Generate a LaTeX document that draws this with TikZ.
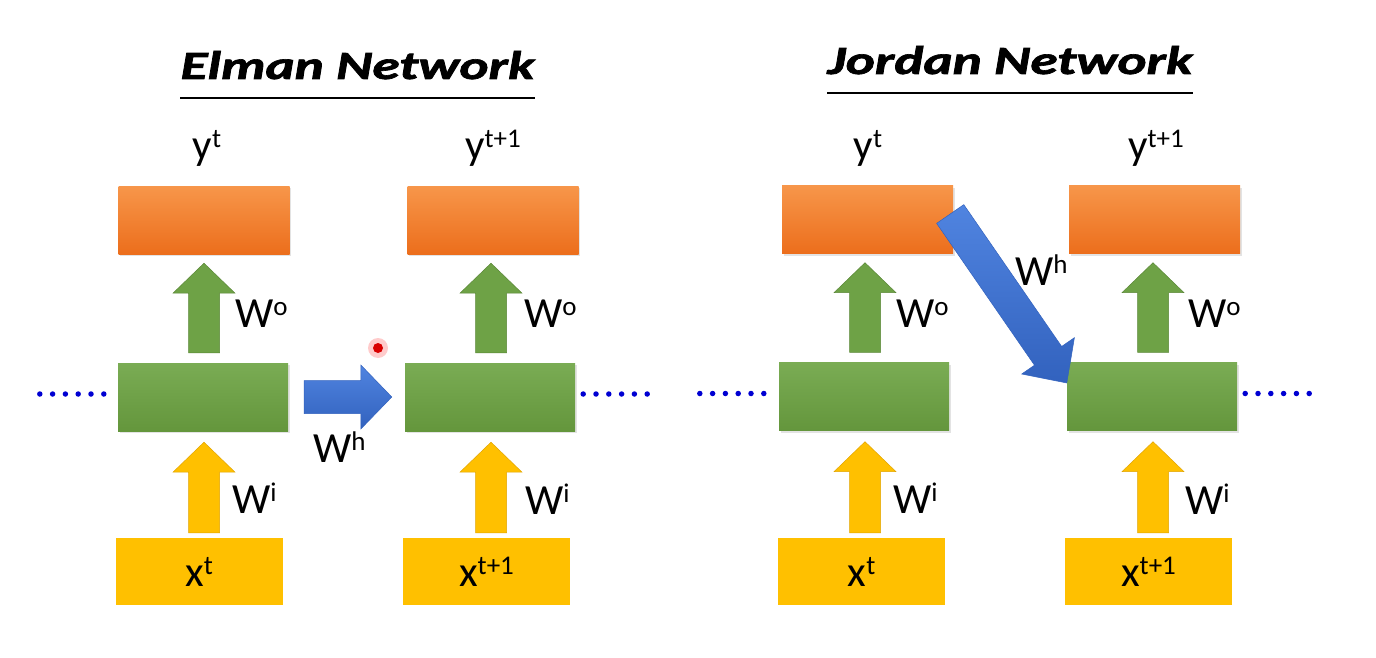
\documentclass[tikz,border=0pt]{standalone}
\usepackage{fontspec}
\setmainfont{Carlito}
\newfontfamily\ttlfamily{Carlito}[BoldItalicFeatures={FakeBold=1.6}]
\usetikzlibrary{calc,shadows}
\definecolor{orT}{RGB}{247,150,74}
\definecolor{orB}{RGB}{236,110,28}
\definecolor{grT}{RGB}{122,172,84}
\definecolor{grB}{RGB}{100,150,60}
\definecolor{grA}{RGB}{110,162,70}
\definecolor{grE}{RGB}{90,135,55}
\definecolor{yel}{RGB}{255,192,0}
\definecolor{yelE}{RGB}{225,165,0}
\definecolor{bluT}{RGB}{80,132,224}
\definecolor{bluB}{RGB}{50,98,190}
\definecolor{dotb}{RGB}{0,0,210}
\newcommand\bigf{\fontsize{43}{50}\selectfont}
\newcommand\sps[1]{\raisebox{12pt}{\fontsize{27}{30}\selectfont #1}}
% #1 style, #2 tail, #3 tip, #4 half shaft, #5 half head, #6 head length
\newcommand\blockarrow[6]{%
  \coordinate (bahb) at ($(#3)!#6!(#2)$);
  \path[#1] ($(#2)!#4!90:(#3)$) -- ($(bahb)!#4!-90:(#2)$) -- ($(bahb)!#5!-90:(#2)$)
    -- (#3) -- ($(bahb)!#5!90:(#2)$) -- ($(bahb)!#4!90:(#2)$) -- ($(#2)!#4!-90:(#3)$) -- cycle;}
\tikzset{
  boxshadow/.style={drop shadow={opacity=0.22,shadow xshift=1.5pt,shadow yshift=-2pt}},
  obox/.style={rectangle, minimum width=171pt, minimum height=68pt, inner sep=0pt, top color=orT, bottom color=orB, boxshadow},
  gbox/.style={rectangle, minimum width=170pt, minimum height=68pt, inner sep=0pt, top color=grT, bottom color=grB, boxshadow},
  xbox/.style={rectangle, minimum width=167pt, minimum height=67pt, inner sep=0pt, fill=yel, font=\bigf},
  lbl/.style={inner sep=0pt, font=\bigf},
  titletext/.style={inner sep=0pt, font=\fontsize{40}{46}\selectfont\ttlfamily\bfseries\itshape},
  uline/.style={line width=2.5pt},
  garrow/.style={fill=grA, draw=grE, line width=0.5pt},
  yarrow/.style={fill=yel, draw=yelE, line width=0.5pt},
  barrow/.style={top color=bluT, bottom color=bluB, draw=bluB, line width=0.5pt},
  dotline/.style={dotb, line width=5.5pt, line cap=round, dash pattern=on 0pt off 12.8pt},
}
\begin{document}
\begin{tikzpicture}[x=1pt,y=-1pt]
\useasboundingbox (0,0) rectangle (1376,658);
\fill[white] (0,0) rectangle (1376,658);

% ---------- Titles ----------
\node[titletext, anchor=base] (et) at (357.5,79) {\scalebox{1.38}[1]{Elman Network}};
\draw[uline] ($(et.base west)+(0,19)$) -- ($(et.base east)+(0,19)$);
\node[titletext, anchor=base] (jt) at (1010,74) {\scalebox{1.38}[1]{Jordan Network}};
\draw[uline] ($(jt.base west)+(0,19)$) -- ($(jt.base east)+(0,19)$);

% ---------- Elman boxes ----------
\node[obox] (eo1) at (204,220) {};
\node[obox] (eo2) at (493,220) {};
\node[gbox] (eg1) at (203,397) {};
\node[gbox] (eg2) at (490,397) {};
\node[xbox] (ex1) at (199,571.5) {x\sps{t}};
\node[xbox] (ex2) at (486.5,571.5) {x\sps{t+1}};

% ---------- Jordan boxes ----------
\node[obox] (jo1) at (867.5,219.5) {};
\node[obox] (jo2) at (1154.5,219.5) {};
\node[gbox] (jg1) at (864,396.5) {};
\node[gbox] (jg2) at (1152,396.5) {};
\node[xbox] (jx1) at (861.5,571.5) {x\sps{t}};
\node[xbox] (jx2) at (1148.5,571.5) {x\sps{t+1}};

% ---------- y labels ----------
\node[lbl, anchor=base] (ey1) at (207,160) {y\sps{t}};
\node[lbl, anchor=base] (ey2) at (493,160) {y\sps{t+1}};
\node[lbl, anchor=base] (jy1) at (868,160) {y\sps{t}};
\node[lbl, anchor=base] (jy2) at (1156,160) {y\sps{t+1}};

% ---------- vertical arrows ----------
\foreach \g/\o/\x/\n in {eg1/eo1/ex1/a, eg2/eo2/ex2/b, jg1/jo1/jx1/c, jg2/jo2/jx2/d}{
  \coordinate (gt\n) at ($(\g.north)+(1,-10)$);
  \coordinate (gh\n) at ($(\g.north |- \o.south)+(1,9)$);
  \blockarrow{garrow}{gt\n}{gh\n}{15.5pt}{31pt}{30pt}
  \coordinate (yt\n) at ($(\g.south |- \x.north)+(1,-5)$);
  \coordinate (yh\n) at ($(\g.south)+(1,11)$);
  \blockarrow{yarrow}{yt\n}{yh\n}{15.5pt}{31pt}{30pt}
}

% ---------- W labels ----------
\node[lbl, anchor=base west] (ewo1) at (235,327) {W\sps{o}};
\node[lbl, anchor=base west] (ewo2) at (524,327) {W\sps{o}};
\node[lbl, anchor=base west] (jwo1) at (896,327) {W\sps{o}};
\node[lbl, anchor=base west] (jwo2) at (1188,327) {W\sps{o}};
\node[lbl, anchor=base west] (ewi1) at (232,513) {W\sps{i}};
\node[lbl, anchor=base west] (ewi2) at (525,514) {W\sps{i}};
\node[lbl, anchor=base west] (jwi1) at (893,513) {W\sps{i}};
\node[lbl, anchor=base west] (jwi2) at (1185,514) {W\sps{i}};

% ---------- hidden-state arrows ----------
\coordinate (ebt) at ($(eg1.east)+(16,0)$);
\coordinate (ebh) at ($(eg2.west)+(-13,0)$);
\blockarrow{barrow}{ebt}{ebh}{16.5pt}{32pt}{31pt}
\node[lbl, anchor=base west] (ewh) at (313,462) {W\sps{h}};

\coordinate (jbt) at ($(jo1.east)+(-3,-5.5)$);
\coordinate (jbh) at ($(jg2.west)+(0,-13.5)$);
\blockarrow{barrow}{jbt}{jbh}{16.5pt}{32pt}{33pt}
\node[lbl, anchor=base west] (jwh) at (1015,285) {W\sps{h}};

% ---------- dotted continuations ----------
\coordinate (ed1) at ($(eg1.west)+(-78,-3)$);
\coordinate (ed2) at ($(eg1.west)+(-14,-3)$);
\draw[dotline] (ed1) -- (ed2);
\coordinate (ed3) at ($(eg2.east)+(8,-3)$);
\coordinate (ed4) at ($(eg2.east)+(72,-3)$);
\draw[dotline] (ed3) -- (ed4);
\coordinate (jd1) at ($(jg1.west)+(-79,-3)$);
\coordinate (jd2) at ($(jg1.west)+(-15,-3)$);
\draw[dotline] (jd1) -- (jd2);
\coordinate (jd3) at ($(jg2.east)+(8,-3)$);
\coordinate (jd4) at ($(jg2.east)+(72,-3)$);
\draw[dotline] (jd3) -- (jd4);

% ---------- pointer dot ----------
\fill[red!40, opacity=0.5] (378,348) circle (10pt);
\fill[red!85!black] (378,348) circle (5pt);
\end{tikzpicture}
\end{document}
